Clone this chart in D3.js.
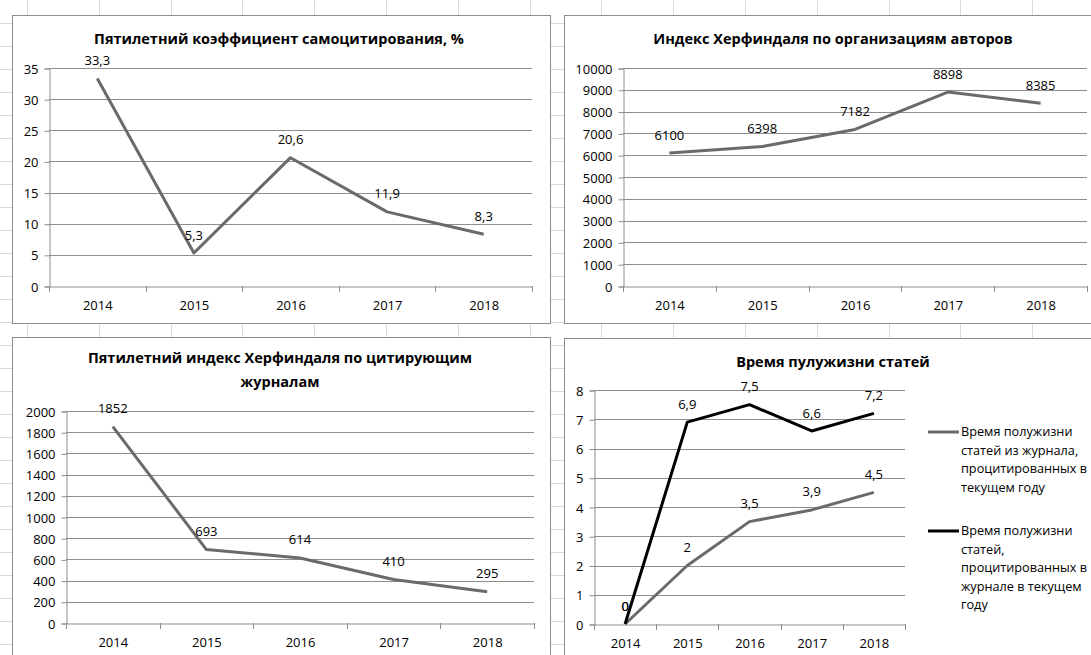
<!DOCTYPE html>
<html>
<head>
<meta charset="utf-8">
<script src="https://cdn.jsdelivr.net/npm/d3@7"></script>
<style>
  body { margin: 0; background: #fff; }
  svg { display: block; font-family: "Open Sans", sans-serif; }
</style>
</head>
<body>
<svg></svg>
<script>
let years = ["2014", "2015", "2016", "2017", "2018"];

let selfCitation = [33.3, 5.3, 20.6, 11.9, 8.3];
let selfCitationTicks = [0, 5, 10, 15, 20, 25, 30, 35];

let herfAuthors = [6100, 6398, 7182, 8898, 8385];
let herfAuthorsTicks = [0, 1000, 2000, 3000, 4000, 5000, 6000, 7000, 8000, 9000, 10000];

let herfJournals = [1852, 693, 614, 410, 295];
let herfJournalsTicks = [0, 200, 400, 600, 800, 1000, 1200, 1400, 1600, 1800, 2000];

let halfLifeCited = [0, 2, 3.5, 3.9, 4.5];
let halfLifeCiting = [0, 6.9, 7.5, 6.6, 7.2];
let halfLifeTicks = [0, 1, 2, 3, 4, 5, 6, 7, 8];

let width = 1091;
let height = 655;

let svg = d3.select("svg").attr("width", width).attr("height", height);

// spreadsheet grid behind the charts
let bg = svg.append("g").style("stroke", "#dadada").style("stroke-width", 1);
bg.selectAll(".col")
  .data(d3.range(27, width, 71.8))
  .join("line")
  .attr("x1", (d) => Math.round(d) + 0.5)
  .attr("x2", (d) => Math.round(d) + 0.5)
  .attr("y1", 0)
  .attr("y2", height);
bg.selectAll(".row")
  .data(d3.range(23, height, 23))
  .join("line")
  .attr("x1", 0)
  .attr("x2", width)
  .attr("y1", (d) => d + 0.5)
  .attr("y2", (d) => d + 0.5);

let fmt = (v) => String(v).replace(".", ",");

function drawPanel(opt) {
  let g = svg.append("g");

  g.append("rect")
    .attr("x", opt.box[0] + 0.5)
    .attr("y", opt.box[1] + 0.5)
    .attr("width", opt.box[2] - opt.box[0])
    .attr("height", opt.box[3] - opt.box[1])
    .style("fill", "#fff")
    .style("stroke", "#8c8c8c");

  opt.title.forEach((t, i) => {
    g.append("text")
      .attr("x", opt.titleX)
      .attr("y", opt.titleY + i * 24)
      .attr("text-anchor", "middle")
      .attr("dy", "0.35em")
      .style("font-weight", "bold")
      .style("font-size", "14.5px")
      .text(t);
  });

  let x = d3.scaleBand().domain(years).range([opt.left, opt.right]);
  let y = d3.scaleLinear().domain([0, d3.max(opt.ticks)]).range([opt.bottom, opt.top]);

  // horizontal gridlines
  g.append("g")
    .selectAll("line")
    .data(opt.ticks.slice(1))
    .join("line")
    .attr("x1", opt.left)
    .attr("x2", opt.right)
    .attr("y1", (d) => Math.round(y(d)) + 0.5)
    .attr("y2", (d) => Math.round(y(d)) + 0.5)
    .style("stroke", "#8e8e8e");

  let yAxis = g.append("g")
    .attr("transform", `translate(${opt.left + 0.5},0.5)`)
    .call(d3.axisLeft(y).tickValues(opt.ticks).tickSize(5).tickPadding(6).tickFormat(fmt));

  let xAxis = g.append("g")
    .attr("transform", `translate(0.5,${Math.round(opt.bottom) + 0.5})`)
    .call(d3.axisBottom(x).tickSize(0).tickPadding(14));

  // category boundary ticks on the x axis
  g.append("g")
    .selectAll("line")
    .data(years.map((d) => x(d)).concat([x.range()[1]]))
    .join("line")
    .attr("x1", (d) => Math.round(d) + 0.5)
    .attr("x2", (d) => Math.round(d) + 0.5)
    .attr("y1", Math.round(opt.bottom))
    .attr("y2", Math.round(opt.bottom) + 6)
    .style("stroke", "#8e8e8e");

  for (let ax of [yAxis, xAxis]) {
    ax.select(".domain").style("stroke", "#8e8e8e");
    ax.selectAll(".tick line").style("stroke", "#8e8e8e");
    ax.selectAll("text")
      .style("font-family", "Open Sans, sans-serif")
      .style("font-size", "13px")
      .style("fill", "#000");
  }
  yAxis.selectAll(".tick text").attr("dy", "0.35em");

  let line = d3.line()
    .x((d, i) => x(years[i]) + x.bandwidth() / 2)
    .y((d) => y(d));

  for (let s of opt.series) {
    g.append("path")
      .datum(s.values)
      .attr("d", line)
      .style("fill", "none")
      .style("stroke", s.color)
      .style("stroke-width", 3)
      .style("stroke-linejoin", "round");
  }

  for (let s of opt.series) {
    g.append("g")
      .selectAll("text")
      .data(s.values)
      .join("text")
      .attr("x", (d, i) => x(years[i]) + x.bandwidth() / 2)
      .attr("y", (d) => y(d) - 18)
      .attr("dy", "0.35em")
      .attr("text-anchor", "middle")
      .style("font-size", "13px")
      .style("fill", "#000")
      .text(fmt);
  }

  if (opt.legend) {
    opt.series.forEach((s, i) => {
      let ly = opt.legend.y[i];
      g.append("line")
        .attr("x1", opt.legend.x)
        .attr("x2", opt.legend.x + 31)
        .attr("y1", ly)
        .attr("y2", ly)
        .style("stroke", s.color)
        .style("stroke-width", 3);
      s.label.forEach((t, j) => {
        g.append("text")
          .attr("x", opt.legend.x + 33)
          .attr("y", ly + j * 18.4)
          .attr("dy", "0.35em")
          .style("font-size", "12.7px")
          .style("fill", "#000")
          .text(t);
      });
    });
  }
}

drawPanel({
  box: [12, 15, 550, 323],
  title: ["Пятилетний коэффициент самоцитирования, %"],
  titleX: 279, titleY: 39,
  left: 49, right: 532, top: 68, bottom: 286,
  ticks: selfCitationTicks,
  series: [{ values: selfCitation, color: "#6a6a6a" }],
});

drawPanel({
  box: [564, 15, 1100, 323],
  title: ["Индекс Херфиндаля по организациям авторов"],
  titleX: 833, titleY: 39,
  left: 623, right: 1087, top: 68, bottom: 286,
  ticks: herfAuthorsTicks,
  series: [{ values: herfAuthors, color: "#6a6a6a" }],
});

drawPanel({
  box: [12, 337, 550, 670],
  title: ["Пятилетний индекс Херфиндаля по цитирующим", "журналам"],
  titleX: 280, titleY: 358,
  left: 66, right: 534, top: 411, bottom: 623,
  ticks: herfJournalsTicks,
  series: [{ values: herfJournals, color: "#6a6a6a" }],
});

drawPanel({
  box: [564, 338, 1100, 670],
  title: ["Время пулужизни статей"],
  titleX: 833, titleY: 362,
  left: 594, right: 905, top: 390, bottom: 624,
  ticks: halfLifeTicks,
  series: [
    {
      values: halfLifeCited,
      color: "#6a6a6a",
      label: ["Время полужизни", "статей из журнала,", "процитированных в", "текущем году"],
    },
    {
      values: halfLifeCiting,
      color: "#000",
      label: ["Время полужизни", "статей,", "процитированных в", "журнале в текущем", "году"],
    },
  ],
  legend: { x: 928, y: [432, 531] },
});
</script>
</body>
</html>
